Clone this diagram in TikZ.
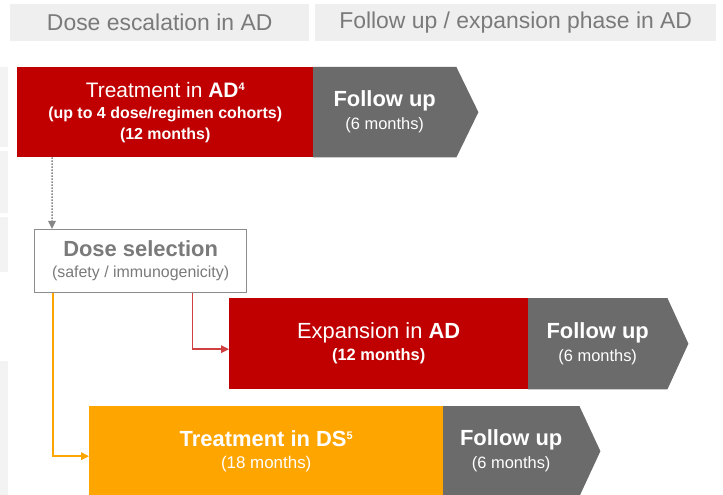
\documentclass[tikz,border=0pt]{standalone}
\usepackage{fontspec}
\setmainfont{Liberation Sans}
\usetikzlibrary{arrows.meta,backgrounds,calc}
\definecolor{adred}{RGB}{192,0,0}
\definecolor{fugray}{RGB}{107,107,107}
\definecolor{dsorange}{RGB}{255,165,0}
\definecolor{hdrfill}{RGB}{239,239,239}
\definecolor{hdrtext}{RGB}{122,122,122}
\definecolor{selline}{RGB}{140,140,140}
\definecolor{bandgray}{RGB}{243,243,243}
\definecolor{redconn}{RGB}{208,64,64}
\definecolor{dotgray}{RGB}{135,135,135}
\newcommand{\supnum}[1]{\raisebox{0.62ex}{\fontsize{11}{11}\selectfont\bfseries #1}}
\begin{document}
\begin{tikzpicture}[x=1bp,y=-1bp,
  hdr/.style={fill=hdrfill,text=hdrtext,anchor=north west,inner sep=0pt,minimum height=37bp,font=\fontsize{23}{27}\selectfont},
  phase/.style={anchor=north west,inner sep=0pt,align=center,text=white},
  fubody/.style={anchor=north west,inner sep=0pt,align=center,text=white,font=\fontsize{16.5}{23}\selectfont},
  conn/.style={line width=1.5bp,-{Triangle[length=8bp,width=7.5bp]}},
  ]
\useasboundingbox (0,0) rectangle (723,495);
% left bands
\fill[bandgray] (0,67) rectangle (8,147);
\fill[bandgray] (0,151) rectangle (8,213);
\fill[bandgray] (0,217) rectangle (8,272);
\fill[bandgray] (0,361) rectangle (8,495);
% headers
\node[hdr,minimum width=299bp] (h1) at (10,4) {Dose escalation in AD};
\node[hdr,minimum width=401bp] (h2) at (315,4) {Follow up / expansion phase in AD};
% row 1
\node[phase,fill=adred,minimum width=296bp,minimum height=90bp,font=\fontsize{16}{21}\selectfont] (box1) at (17,67)
  {{\fontsize{21}{21}\selectfont Treatment in \textbf{AD}\supnum{4}}\\
   {\bfseries (up to 4 dose/regimen cohorts)}\\
   {\bfseries (12 months)}};
\node[fubody,minimum width=143bp,minimum height=90bp] (fu1) at (313,67)
  {{\bfseries\fontsize{22}{23}\selectfont Follow up}\\(6 months)};
% row 2
\node[phase,fill=adred,minimum width=299bp,minimum height=91bp,font=\fontsize{16.5}{22}\selectfont] (exp) at (229,298)
  {{\fontsize{22}{22}\selectfont Expansion in \textbf{AD}}\\
   {\bfseries (12 months)}};
\node[fubody,minimum width=139bp,minimum height=91bp] (fu2) at (528,298)
  {{\bfseries\fontsize{22}{23}\selectfont Follow up}\\(6 months)};
% row 3
\node[phase,fill=dsorange,minimum width=354bp,minimum height=90bp,font=\fontsize{17}{22}\selectfont] (ds) at (89,406)
  {{\bfseries\fontsize{22}{22}\selectfont Treatment in DS\supnum{5}}\\
   (18 months)};
\node[fubody,minimum width=136bp,minimum height=90bp] (fu3) at (443,406)
  {{\bfseries\fontsize{22}{23}\selectfont Follow up}\\(6 months)};
% chevron backgrounds
\begin{scope}[on background layer]
  \foreach \f/\t in {fu1/22,fu2/21,fu3/21}{
    \fill[fugray] (\f.north west) -- (\f.north east) -- ($(\f.east)+(\t,0)$) -- (\f.south east) -- (\f.south west) -- cycle;
  }
\end{scope}
% dose selection
\node[anchor=north west,inner sep=0pt,align=center,draw=selline,line width=1.2bp,fill=white,text=hdrtext,
      minimum width=212bp,minimum height=63bp,font=\fontsize{16}{21}\selectfont] (sel) at (34,229)
  {{\bfseries\fontsize{22}{21}\selectfont Dose selection}\\(safety / immunogenicity)};
% connectors
\draw[conn,dotgray,dash pattern=on 1.5bp off 1.5bp] ([xshift=35bp]box1.south west) -- ([xshift=18bp]sel.north west);
\draw[conn,redconn] ([xshift=158.5bp]sel.south west) |- ($(exp.west)+(0,5.5)$);
\draw[conn,dsorange] ([xshift=19bp]sel.south west) |- ($(ds.west)+(0,5)$);
\end{tikzpicture}
\end{document}
